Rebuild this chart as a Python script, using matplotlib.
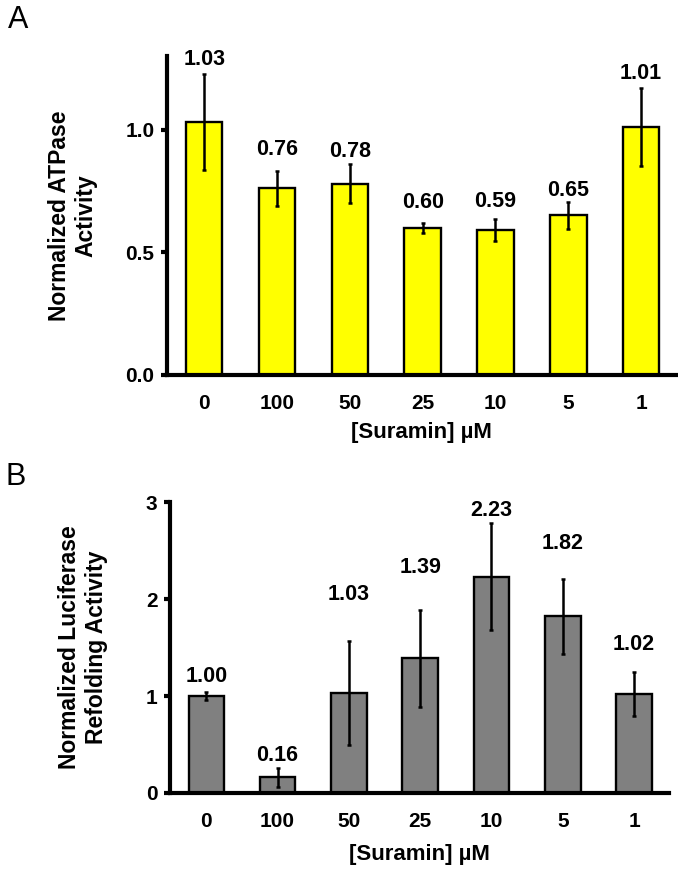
import numpy as np
import matplotlib
matplotlib.use('Agg')
from matplotlib import pyplot as plt

plt.rcParams['font.family'] = ['Liberation Sans', 'DejaVu Sans']
plt.rcParams['font.weight'] = 'bold'

# data
conc = ['0', '100', '50', '25', '10', '5', '1']

atpase = [1.03, 0.76, 0.78, 0.60, 0.59, 0.65, 1.01]
atpase_err = [0.195, 0.07, 0.08, 0.02, 0.045, 0.055, 0.16]

refold = [1.00, 0.16, 1.03, 1.39, 2.23, 1.82, 1.02]
refold_err = [0.04, 0.10, 0.54, 0.50, 0.55, 0.39, 0.23]

# gap (points) between error bar top and value label, as placed in the original
lab_gap_a = [6.5, 11.5, 5, 11, 8.5, 4.5, 6.5]
lab_gap_b = [7, 5, 29.5, 26.5, 5, 21.5, 16]


def panel(ax, vals, errs, gaps, color, ylim, yticks, yfmt, ylabel, xlabpad):
    x = np.arange(len(vals))
    ax.bar(x, vals, width=0.5, color=color, edgecolor='black', linewidth=1.7, zorder=2)
    ax.errorbar(x, vals, yerr=errs, fmt='none', ecolor='black', elinewidth=1.8,
                capsize=1.5, capthick=1.8, zorder=3)
    for xi, v, e, g in zip(x, vals, errs, gaps):
        ax.annotate('%.2f' % v, (xi, v + e), xytext=(0, g), textcoords='offset points',
                    ha='center', va='baseline', fontsize=15.5, fontweight='bold')
    ax.set_xlim(-0.51, 6.49)
    ax.set_ylim(*ylim)
    ax.set_yticks(yticks)
    ax.set_yticklabels([yfmt % t for t in yticks])
    ax.set_xticks(x)
    ax.set_xticklabels(conc)
    for s in ['top', 'right']:
        ax.spines[s].set_visible(False)
    for s in ['left', 'bottom']:
        ax.spines[s].set_linewidth(3)
    ax.tick_params(axis='y', direction='out', length=4, width=3, labelsize=15, pad=5)
    ax.tick_params(axis='x', length=0, labelsize=15, pad=14)
    ax.set_xlabel('[Suramin] \u00b5M', fontsize=16, fontweight='bold', labelpad=xlabpad)
    ax.set_ylabel(ylabel, fontsize=16.5, fontweight='bold', linespacing=1.2)


fig = plt.figure(figsize=(6.78, 8.72), dpi=100)

axA = fig.add_axes([0.2463, 0.5700, 0.752, 0.3658])
panel(axA, atpase, atpase_err, lab_gap_a, '#FFFF00', (0, 1.30), [0.0, 0.5, 1.0], '%.1f',
      'Normalized ATPase\nActivity', 6)
axA.yaxis.set_label_coords(-0.137, 0.5)

axB = fig.add_axes([0.2507, 0.0906, 0.736, 0.3337])
panel(axB, refold, refold_err, lab_gap_b, '#808080', (0, 3), [0, 1, 2, 3], '%d',
      'Normalized Luciferase\nRefolding Activity', 9)
axB.yaxis.set_label_coords(-0.124, 0.5)

fig.text(8 / 678, 1 - 28 / 872, 'A', fontsize=22, fontweight='normal', ha='left', va='baseline')
fig.text(5 / 678, 1 - 485 / 872, 'B', fontsize=22, fontweight='normal', ha='left', va='baseline')

fig.savefig('out.png', dpi=100)
